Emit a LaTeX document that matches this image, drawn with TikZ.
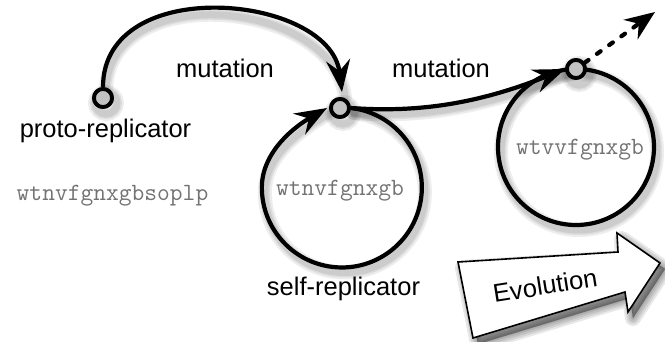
\documentclass[tikz,border=0pt]{standalone}
\usepackage{fontspec}
\setmainfont{Liberation Sans}
\usetikzlibrary{arrows.meta}
\definecolor{codegray}{gray}{0.45}
\definecolor{dotfill}{gray}{0.76}
\begin{document}
\begin{tikzpicture}[x=1pt,y=1pt,
  thickline/.style={line width=4.2pt, draw=black},
  bigtip/.style={-{Stealth[length=32pt,width=24pt,inset=11pt]}},
  dotnode/.style={circle, draw=black, line width=3.8pt, fill=dotfill, minimum size=18pt, inner sep=0pt},
  label/.style={font=\fontsize{25.5}{30}\selectfont, anchor=base, inner sep=0pt},
  code/.style={font=\ttfamily\fontsize{24.8}{28}\selectfont, text=codegray, anchor=base, inner sep=0pt},
  shadowline/.style={draw=black, opacity=0.07, line cap=round, transform canvas={shift={(3pt,-5pt)}}},
  evoshadow/.style={fill=black, opacity=0.09, draw=black, line join=round}
]
\useasboundingbox (0,0) rectangle (665,341);

% small circles (states)
\node[dotnode] (proto) at (103,243) {};
\node[dotnode] (self) at (340,233) {};
\node[dotnode] (c2) at (576,272) {};
\coordinate (m1end) at (342,249);
\coordinate (l1end) at (327,233);
\coordinate (dtip) at (655,329);
\coordinate (l2c) at (576,194);

\def\pathmutone{(proto.north) .. controls (103,368) and (330,347) .. (m1end)}
\def\pathloopone{(self.east) arc[start angle=83.5, end angle=-180, radius=80] to[out=90, in=210, looseness=0.9] (l1end)}
\def\pathmuttwo{(self.east) .. controls (420,228) and (480,238) .. (c2.west)}

% soft shadows under the lines
\foreach \w in {14,10,7} {
  \path[shadowline, line width=\w pt] \pathmutone;
  \path[shadowline, line width=\w pt] \pathloopone;
  \path[shadowline, line width=\w pt] \pathmuttwo;
  \path[shadowline, line width=\w pt] (l2c) circle[radius=78];
  \path[shadowline, line width=\w pt] (self) circle[radius=11];
  \path[shadowline, line width=\w pt] (proto) circle[radius=11];
  \path[shadowline, line width=\w pt] (c2) circle[radius=11];
}

% loop 2 circle
\node[circle, thickline, minimum size=156pt, inner sep=0pt] (loop2) at (l2c) {};

% mutation arc 1
\draw[thickline, bigtip] \pathmutone;

% loop 1
\draw[thickline, bigtip] \pathloopone;

% mutation 2
\draw[thickline, bigtip] \pathmuttwo;

% dotted continuation
\draw[thickline, line cap=round, dash pattern=on 4.5pt off 10.5pt,
  -{Stealth[length=30pt,width=24pt,inset=10pt]}] (c2) -- (dtip);

% redraw small circles on top
\node[dotnode] at (proto) {};
\node[dotnode] at (self) {};
\node[dotnode] at (c2) {};

% texts
\node[label] (lproto) at (105.5,204) {proto-replicator};
\node[label] (lmut1) at (225,263) {mutation};
\node[label] (lmut2) at (441,264) {mutation};
\node[label] (lself) at (343.5,46) {self-replicator};
\node[code] (cproto) at (112.5,141) {wtnvfgnxgbsoplp};
\node[code] (cself) at (340,146) {wtnvfgnxgb};
\node[code] (cloop2) at (580,187) {wtvvfgnxgb};

% Evolution arrow
\coordinate (e1) at (458,79);
\coordinate (e2) at (618,89);
\coordinate (e3) at (617,108);
\coordinate (e4) at (660,78);
\coordinate (e5) at (628,29);
\coordinate (e6) at (625,49);
\coordinate (e7) at (473,3);
\foreach \w in {16,12,8,4,1} {
  \path[evoshadow, line width=\w pt, transform canvas={shift={(5pt,-6pt)}}]
    (e1) -- (e2) -- (e3) -- (e4) -- (e5) -- (e6) -- (e7) -- cycle;
}
\draw[fill=white, line width=1.6pt, line join=miter]
  (e1) -- (e2) -- (e3) -- (e4) -- (e5) -- (e6) -- (e7) -- cycle;
\node[label, rotate=9] (levo) at (546.5,46.5) {Evolution};
\end{tikzpicture}
\end{document}
